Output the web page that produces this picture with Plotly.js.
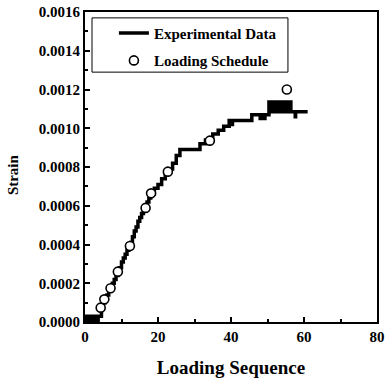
<!DOCTYPE html>
<html>
<head>
<meta charset="utf-8">
<script src="https://cdn.plot.ly/plotly-3.0.1.min.js"></script>
<style>html,body{margin:0;padding:0;background:#fff;}#chart{width:388px;height:378px;}</style>
</head>
<body>
<div id="chart"></div>
<script>
// Experimental data (step line): loading sequence vs strain
const expSeq = [
  0, 0.4, 0.8, 1.2, 1.6, 2.0, 2.4, 2.8, 3.2, 3.6, 4.0,
  4.5, 5.0, 5.5, 6.0, 6.5, 7.0, 7.5, 8.0, 8.5, 9.0, 9.5, 10.0, 10.5, 11.0, 11.5, 12.0,
  12.5, 13.0, 13.5, 14.0, 14.5, 15.0, 15.5, 16.0, 16.5, 17.0, 17.5, 18.0,
  19.0, 20.0, 21.0, 22.0, 23.0, 24.0, 25.0, 26.0, 31.5, 33.0, 35.0, 36.5, 38.0, 39.5,
  40.3, 40.4, 40.6, 45.7, 48.0, 48.1, 48.5, 48.7, 49.1, 49.3, 50.4,
  50.8, 51.2, 51.6, 52.0, 52.4, 52.8, 53.2, 53.6, 54.0, 54.4, 54.8, 55.2, 55.6, 56.0, 56.4, 56.6,
  57.6, 57.7, 57.9, 61.0
];
const expStrain = [
  0.00000, 0.00003, 0.00000, 0.00003, 0.00000, 0.00003, 0.00000, 0.00003, 0.00000, 0.00003, 0.00003,
  0.00007, 0.00010, 0.00012, 0.00014, 0.00016, 0.00018, 0.00020, 0.00022, 0.00024, 0.00026, 0.00028, 0.00031, 0.00033, 0.00035, 0.00037, 0.00039,
  0.00041, 0.00044, 0.00047, 0.00049, 0.00052, 0.00054, 0.00056, 0.00058, 0.00060, 0.00062, 0.00064, 0.00066,
  0.00069, 0.00071, 0.00074, 0.00077, 0.00079, 0.00082, 0.00086, 0.00089, 0.00092, 0.00094, 0.00097, 0.00099, 0.00101, 0.00104,
  0.00102, 0.00104, 0.00104, 0.00107, 0.00105, 0.00107, 0.00105, 0.00107, 0.00105, 0.00107, 0.001135,
  0.001085, 0.001135, 0.001085, 0.001135, 0.001085, 0.001135, 0.001085, 0.001135, 0.001085, 0.001135, 0.001085, 0.001135, 0.001085, 0.001135, 0.001085, 0.001085,
  0.00106, 0.001085, 0.001085, 0.001085
];
// Loading schedule points
const schedSeq = [4.3, 5.3, 7.0, 9.0, 12.3, 16.6, 18.1, 22.7, 34.2, 55.3];
const schedStrain = [0.000074, 0.000117, 0.000174, 0.00026, 0.000392, 0.000589, 0.000664, 0.000776, 0.000936, 0.0012];

const xTickVals = [0, 20, 40, 60, 80];
const yTickVals = [0, 0.0002, 0.0004, 0.0006, 0.0008, 0.0010, 0.0012, 0.0014, 0.0016];

const font = 'Liberation Serif, Times New Roman, serif';

const traces = [
  {
    x: expSeq, y: expStrain, type: 'scatter', mode: 'lines',
    line: {color: '#000', width: 3.5, shape: 'hv'},
    name: 'Experimental Data', legendgroup: 'a'
  },
  {
    x: schedSeq, y: schedStrain, type: 'scatter', mode: 'markers',
    marker: {symbol: 'circle', size: 9, color: '#fff', line: {color: '#000', width: 1.6}},
    name: 'Loading Schedule', legendgroup: 'b'
  }
];

const axisCommon = {
  showgrid: false, zeroline: false,
  showline: true, linecolor: '#000', linewidth: 2, mirror: true,
  ticks: 'inside', ticklen: 5, tickwidth: 2, tickcolor: '#000',
  tickfont: {family: font, size: 15, color: '#000', weight: 'bold'}
};

const layout = {
  width: 388, height: 378,
  margin: {l: 85, r: 11, t: 12, b: 56},
  paper_bgcolor: '#fff', plot_bgcolor: '#fff',
  showlegend: true,
  legend: {
    x: 0.099, y: 0.985, xanchor: 'left', yanchor: 'top',
    bgcolor: 'rgba(0,0,0,0)', borderwidth: 0,
    font: {family: font, size: 15, color: '#000', weight: 'bold'},
    traceorder: 'grouped', tracegroupgap: 5
  },
  shapes: [{
    type: 'rect', xref: 'paper', yref: 'paper',
    x0: 0.024, x1: 0.695, y0: 0.806, y1: 0.981,
    line: {color: '#000', width: 1}, fillcolor: '#fff', layer: 'below'
  }],
  annotations: [{
    text: 'Strain', xref: 'paper', yref: 'paper', x: -0.2466, y: 0.477,
    xanchor: 'center', yanchor: 'middle', textangle: -90, showarrow: false,
    font: {family: font, size: 15, color: '#000', weight: 'bold'}
  }],
  xaxis: Object.assign({}, axisCommon, {
    range: [0, 80], tickvals: xTickVals, ticktext: xTickVals.map(String),
    minor: {dtick: 10, tick0: 0, ticks: 'inside', ticklen: 3, tickwidth: 2, tickcolor: '#000'},
    title: {text: 'Loading Sequence', font: {family: font, size: 19, color: '#000', weight: 'bold'}, standoff: 18}
  }),
  yaxis: Object.assign({}, axisCommon, {
    range: [0, 0.0016], tickvals: yTickVals, ticktext: yTickVals.map(v => v.toFixed(4)),
    minor: {dtick: 0.0001, tick0: 0, ticks: 'inside', ticklen: 3, tickwidth: 2, tickcolor: '#000'}
  })
};

Plotly.newPlot('chart', traces, layout, {staticPlot: true, displayModeBar: false});
</script>
</body>
</html>
